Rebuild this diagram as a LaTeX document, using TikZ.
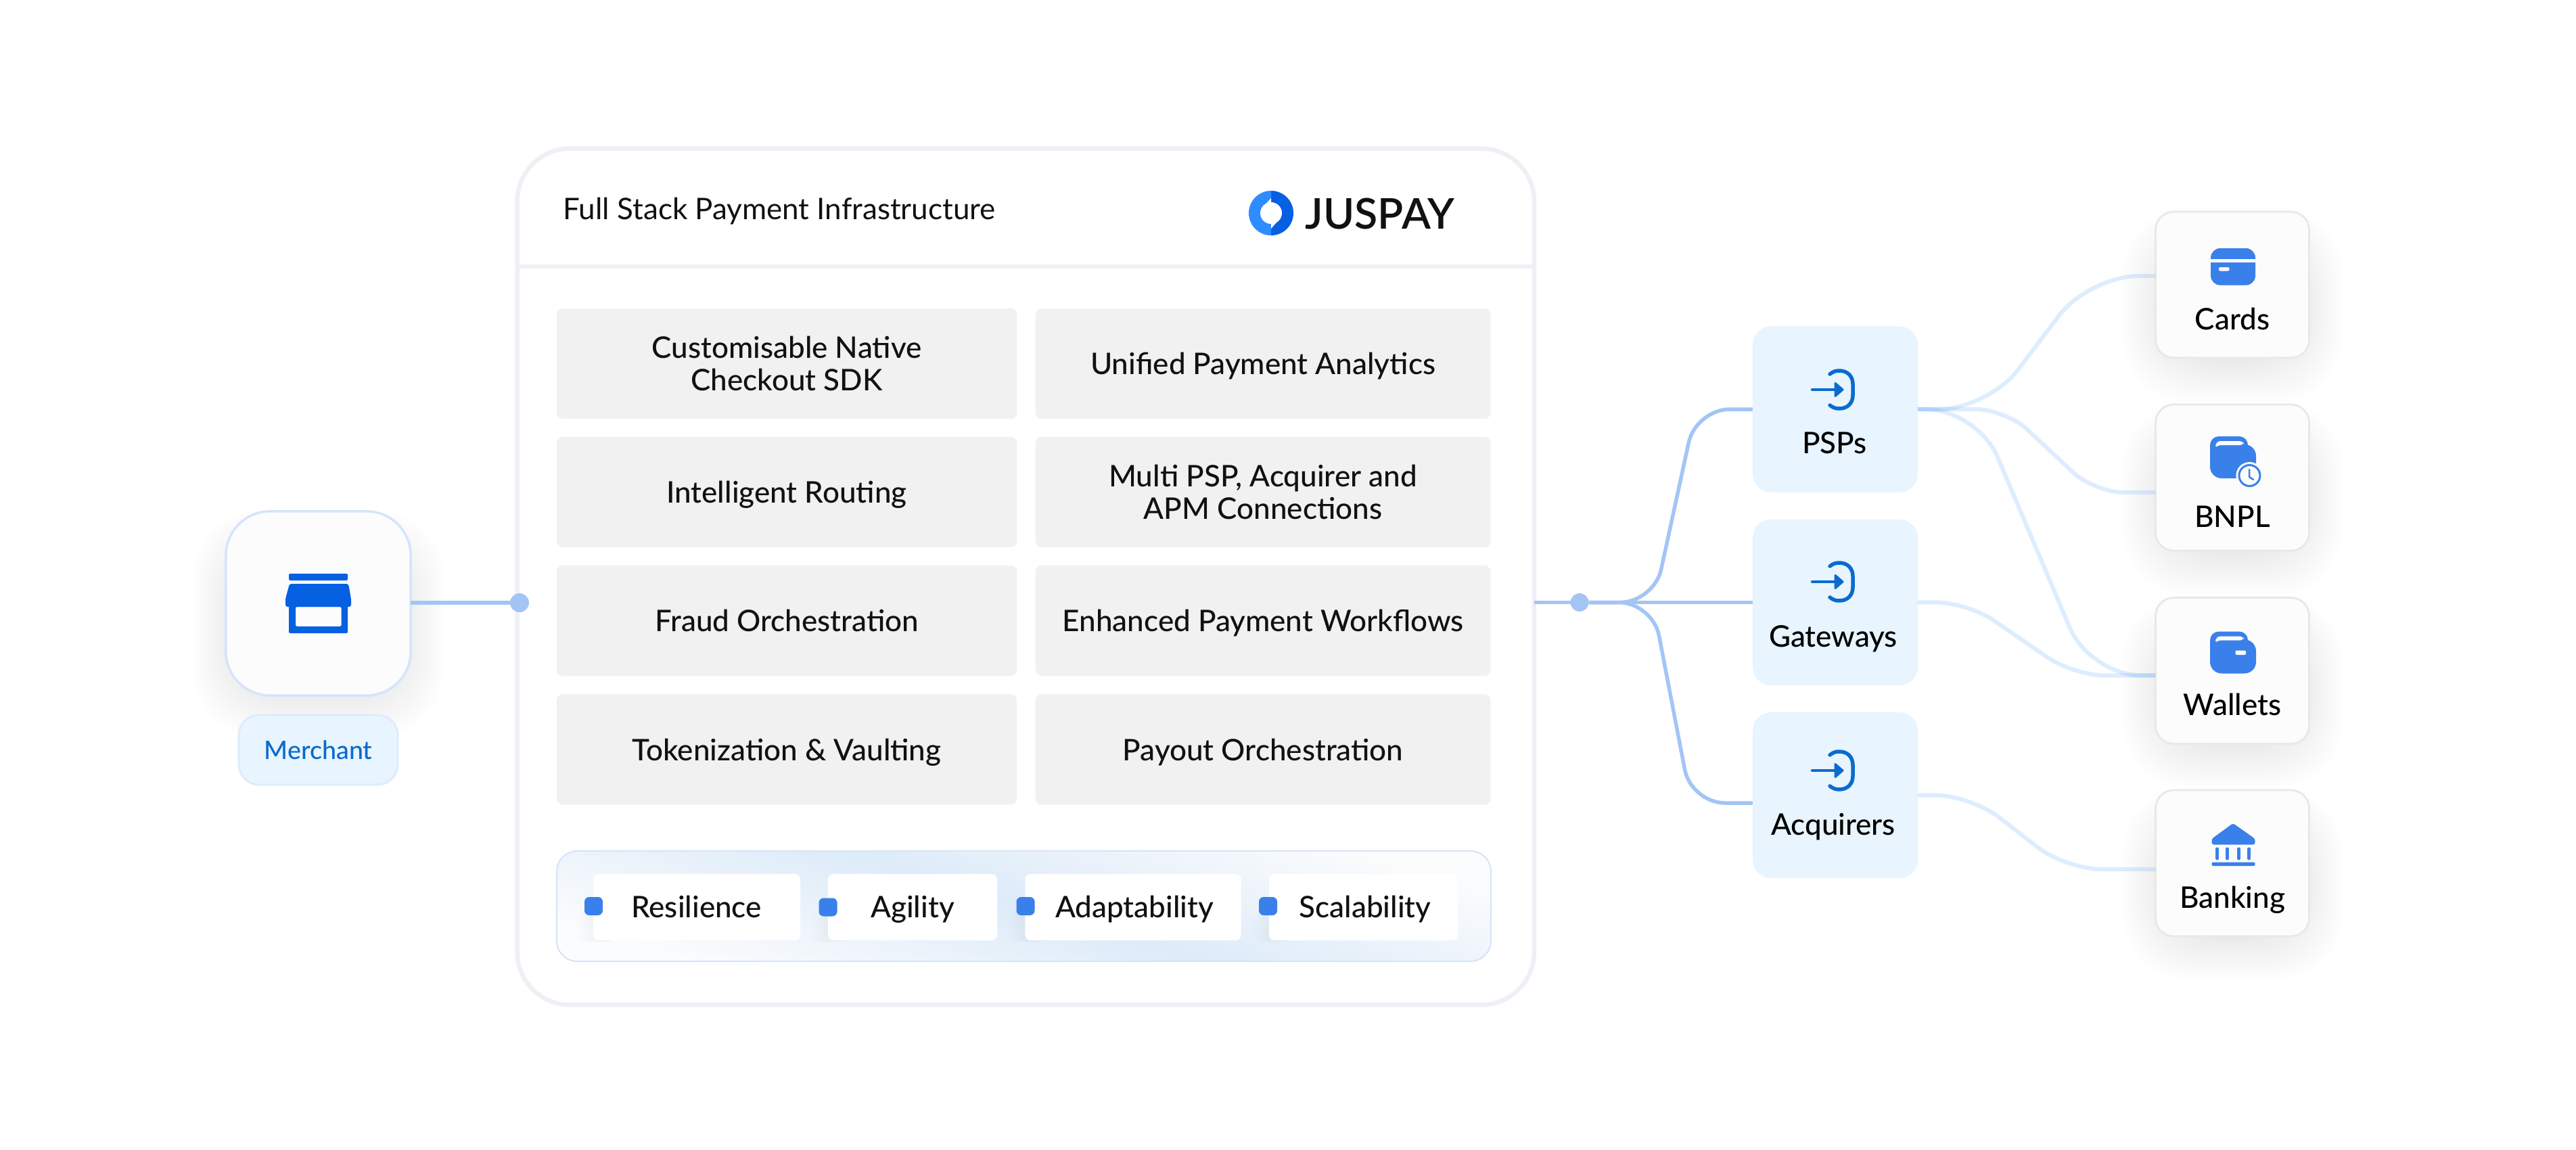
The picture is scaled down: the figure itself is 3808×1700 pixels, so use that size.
\documentclass[tikz,border=0pt]{standalone}
\usepackage{xcolor}
\usepackage{fontspec}
\usepackage{tikz}
\usetikzlibrary{backgrounds,calc}
\setmainfont{Lato}
\newfontfamily\medfont{Lato Medium}
\newfontfamily\logofont{Lato Semibold}

\definecolor{paneledge}{HTML}{EFF0F5}
\definecolor{cellgray}{HTML}{F1F1F2}
\definecolor{inkdark}{HTML}{111111}
\definecolor{softblue}{HTML}{E8F4FE}
\definecolor{softedge}{HTML}{DFEBFD}
\definecolor{cardedge}{HTML}{D5E4FB}
\definecolor{linkblue}{HTML}{A3C5F6}
\definecolor{fadeblue}{HTML}{5BA3F8}
\definecolor{chipblue}{HTML}{3A80EA}
\definecolor{storeblue}{HTML}{0560E2}
\definecolor{logoblue}{HTML}{2F8CFF}
\definecolor{entryblue}{HTML}{0A6BCE}
\definecolor{stripblue}{HTML}{DDEBF9}
\definecolor{stripwhite}{HTML}{FBFCFD}

\tikzset{
  cell/.style={fill=cellgray,minimum width=#1,minimum height=1.63cm,rounded corners=.09cm,
    inner sep=0pt,outer sep=0pt,align=center,text=inkdark,font=\fontsize{12.5}{13.5}\medfont},
  cell/.default=6.8cm,
  oneline/.style={text height=9.2pt,text depth=0pt},
  hub/.style={fill=softblue,minimum width=2.44cm,minimum height=2.45cm,rounded corners=.27cm,
    inner sep=0pt,outer sep=0pt},
  rail/.style={fill=black!1,draw=#1,line width=.028cm,minimum width=2.27cm,minimum height=2.16cm,
    rounded corners=.27cm,inner sep=0pt,outer sep=0pt},
  rail/.default=black!9,
  chip/.style={fill=white,minimum height=.98cm,rounded corners=.08cm,inner sep=0pt,outer sep=0pt},
  tag/.style={text=black,font=\fontsize{12.5}{14}\medfont,inner sep=0pt,anchor=base},
  marker/.style={fill=chipblue,minimum size=.27cm,rounded corners=.07cm,inner sep=0pt,outer sep=0pt},
  knot/.style={circle,fill=linkblue,minimum size=.28cm,inner sep=0pt,outer sep=0pt},
  inlink/.style={draw=linkblue,line width=.055cm,rounded corners=.5cm},
  outlink/.style={draw=fadeblue,draw opacity=.2,line width=.062cm},
  pics/entryicon/.style={code={
    \draw[entryblue,line width=.045cm,line cap=round] (0,0) -- (38,0);
    \fill[entryblue,draw=entryblue,line width=.03cm,line join=round] (34,-9.5) -- (45,0) -- (34,9.5) -- cycle;
    \draw[entryblue,line width=.055cm,line cap=round]
      (26,-23) .. controls (31,-27) and (35,-28) .. (40,-28)
      .. controls (52,-28) and (60,-20) .. (60,-8) -- (60,8)
      .. controls (60,20) and (52,28) .. (40,28)
      .. controls (35,28) and (31,27) .. (26,23);
  }},
  pics/walleticon/.style={code={
    \fill[chipblue,rounded corners=.17cm] (0,12) rectangle (68,62);
    \fill[chipblue,rounded corners=.13cm] (0,40) -- (0,0) -- (56,0) -- (56,30) -- cycle;
    \fill[black!1,rounded corners=.05cm] (7,17) -- (10,7) -- (49,7) -- (50,13) -- (12,13) -- cycle;
  }}
}

% soft shadow under a node
\newcommand{\softshadow}[4]{%
  \foreach \k in {1,...,#3} {
    \fill[black,opacity=#4,rounded corners=.9cm]
      ($(#1.south west)+(20+3*\k-3*#3,-#2+3*#3-3*\k)$) rectangle ($(#1.north east)+(-20-3*\k+3*#3,#2+60-3*#3+3*\k)$);
  }}

\begin{document}
\begin{tikzpicture}[x=.01cm,y=-.01cm]
\useasboundingbox (0,0) rectangle (3808,1700);

% merchant
\node[fill=black!1,draw=cardedge,line width=.035cm,minimum width=2.73cm,minimum height=2.72cm,
  rounded corners=.65cm,inner sep=0pt,outer sep=0pt] (merchant) at (470.5,892) {};
\node[fill=softblue,draw=softedge,line width=.03cm,minimum width=2.35cm,minimum height=1.03cm,
  rounded corners=.3cm,inner sep=0pt,outer sep=0pt,text=entryblue,font=\fontsize{10.7}{12}\medfont]
  (merchanttag) at (470.5,1108.5) {Merchant};
\fill[storeblue,rounded corners=.02cm] (427,848) rectangle (514,858);
\fill[storeblue,rounded corners=.03cm] (428,863) -- (515,863) -- (519,885) -- (519,897) -- (422,897) -- (422,885) -- cycle;
\fill[storeblue,even odd rule,rounded corners=.02cm] (427,895) rectangle (514,936) (437,897) rectangle (504.5,926);

% main panel
\node[fill=white,draw=paneledge,line width=.065cm,minimum width=15.025cm,minimum height=12.65cm,
  rounded corners=.78cm,inner sep=0pt,outer sep=0pt] (panel) at (1516.25,852.5) {};
\draw[paneledge,line width=.065cm] (panel.west |- 0,394) -- (panel.east |- 0,394);
\node[anchor=base west,inner sep=0pt,text=inkdark,font=\fontsize{12.5}{14}\selectfont] (title) at (832,324)
  {Full Stack Payment Infrastructure};
\node[anchor=base west,inner sep=0pt,text=inkdark,font=\fontsize{17.8}{20}\logofont] (logo) at (1929,338) {JUSPAY};
\fill[storeblue] (1879,282) arc (-90:90:33) -- cycle;
\fill[logoblue] (1879,282) arc (-90:-270:33) -- cycle;
\fill[white] (1879,315) circle (16);
\fill[white] (1879,293) -- (1865,308) -- (1879,308) -- cycle;
\fill[white] (1879,338) -- (1893,322) -- (1879,322) -- cycle;

% features
\node[cell] (sdk) at (1163,537.5) {Customisable Native\\Checkout SDK};
\node[cell=6.725cm,oneline] (analytics) at (1867,537.5) {Unified Payment Analytics};
\node[cell,oneline] (routing) at (1163,727.5) {Intelligent Routing};
\node[cell=6.725cm] (connect) at (1867,727.5) {Multi PSP, Acquirer and\\APM Connections};
\node[cell,oneline] (fraud) at (1163,917.5) {Fraud Orchestration};
\node[cell=6.725cm,oneline] (workflow) at (1867,917.5) {Enhanced Payment Workflows};
\node[cell,oneline] (token) at (1163,1108) {Tokenization \& Vaulting};
\node[cell=6.725cm,oneline] (payout) at (1867,1108) {Payout Orchestration};

% strip
\node[draw=cardedge,line width=.02cm,minimum width=13.8cm,minimum height=1.63cm,rounded corners=.3cm,
  inner sep=0pt,outer sep=0pt,top color=stripwhite,bottom color=stripwhite,middle color=stripblue,shading angle=-17]
  (strip) at (1513.5,1339.5) {};
\foreach \a in {877,1224,1515,1876} {
  \foreach \k in {1,...,8} {
    \fill[black,opacity=.005,rounded corners=.08cm] (\a-\k*3,1325+\k*3) rectangle (\a+30,1392);
  }
}
\node[chip,minimum width=3.06cm] (resilience) at (1030,1341) {};
\node[chip,minimum width=2.5cm] (agility) at (1349,1341) {};
\node[chip,minimum width=3.19cm] (adapt) at (1675,1341) {};
\node[chip,minimum width=2.79cm] (scale) at (2015.5,1341) {};
\node[marker] (m1) at (877.5,1339.5) {};
\node[marker] (m2) at (1224,1341) {};
\node[marker] (m3) at (1516,1339.5) {};
\node[marker] (m4) at (1874.5,1339.5) {};
\node[tag,text=inkdark] at (1029.5,1356) {Resilience};
\node[tag,text=inkdark] at (1349,1356) {Agility};
\node[tag,text=inkdark] at (1677,1356) {Adaptability};
\node[tag,text=inkdark] at (2018,1356) {Scalability};

% hubs
\node[hub] (psp) at (2713,605) {};
\node[hub] (gateway) at (2713,890.5) {};
\node[hub] (acquirer) at (2713,1175.5) {};
\pic at (2679,576) {entryicon};
\pic at (2679,860) {entryicon};
\pic at (2679,1139) {entryicon};
\node[tag] at (2712,670) {PSPs};
\node[tag] at (2710,956) {Gateways};
\node[tag] at (2710,1234) {Acquirers};

% rails
\node[rail] (cards) at (3300,421) {};
\node[rail] (bnpl) at (3300,706) {};
\node[rail] (wallets) at (3300,991.5) {};
\node[rail] (banking) at (3300,1276) {};
\node[tag] at (3300,487) {Cards};
\node[tag] at (3300,779) {BNPL};
\node[tag] at (3300,1057) {Wallets};
\node[tag] at (3300,1342) {Banking};
\fill[chipblue,rounded corners=.14cm] (3268,367) rectangle (3334,421.6);
\fill[black!1] (3268,382.5) rectangle (3334,388);
\fill[black!1,rounded corners=.02cm] (3280,395) rectangle (3295.5,400.5);
\pic at (3267,645) {walleticon};
\fill[black!1] (3325.4,703) circle (20);
\draw[chipblue,line width=.03cm] (3325.4,703) circle (15.5);
\draw[chipblue,line width=.025cm,line cap=round] (3325,694) -- (3325,705) -- (3331,709);
\pic at (3267,933.5) {walleticon};
\fill[black!1,rounded corners=.02cm] (3304.5,961.5) rectangle (3320,968);
\fill[chipblue,rounded corners=.03cm] (3301,1217) -- (3333.5,1240) -- (3333.5,1248.5) -- (3269.5,1248.5) -- (3269.5,1240) -- cycle;
\foreach \x in {3277.7,3292.4,3309.8,3324.5} {
  \draw[chipblue,line width=.05cm,line cap=round] (\x,1255) -- (\x,1269);
}
\fill[chipblue,rounded corners=.02cm] (3269.5,1274.5) rectangle (3333.5,1280);

% connectors
\node[knot] (leftknot) at (768,891) {};
\draw[draw=linkblue,line width=.06cm] (merchant.east |- leftknot) -- (leftknot);
\node[knot,minimum size=.27cm] (rightknot) at (2335,890.5) {};
\draw[draw=linkblue,line width=.055cm] (panel.east |- gateway) -- (rightknot) -- (gateway.west);
\path[inlink] (rightknot) -- (2445,890.5) -- (2507,605) -- (psp.west);
\path[inlink] (rightknot) -- (2443,890.5) -- (2500,1187) -- ($(acquirer.west)+(0,11.5)$);
\path[outlink,rounded corners=.73cm] (psp.east) -- (2939,605) -- (3088,408) -- ($(cards.west)+(0,-13)$);
\path[outlink,rounded corners=.44cm] (psp.east) -- (2965,605) -- (3096,728) -- ($(bnpl.west)+(0,22)$);
\path[outlink,rounded corners=.76cm] (psp.east) -- (2923,605) -- (3089.5,998.5) -- ($(wallets.west)+(0,7)$);
\path[outlink,rounded corners=.46cm] (gateway.east) -- (2908,890.5) -- (3066,998.5) -- ($(wallets.west)+(0,7)$);
\path[outlink,rounded corners=.53cm] (acquirer.east) -- (2913,1175.5) -- (3054,1285) -- ($(banking.west)+(0,9)$);

\begin{scope}[on background layer]
  \softshadow{merchant}{10}{24}{.0026}
  \softshadow{merchanttag}{0}{14}{.0015}
  \softshadow{cards}{5}{24}{.0026}
  \softshadow{bnpl}{5}{24}{.0026}
  \softshadow{wallets}{5}{24}{.0026}
  \softshadow{banking}{5}{24}{.0026}
\end{scope}
\end{tikzpicture}
\end{document}
